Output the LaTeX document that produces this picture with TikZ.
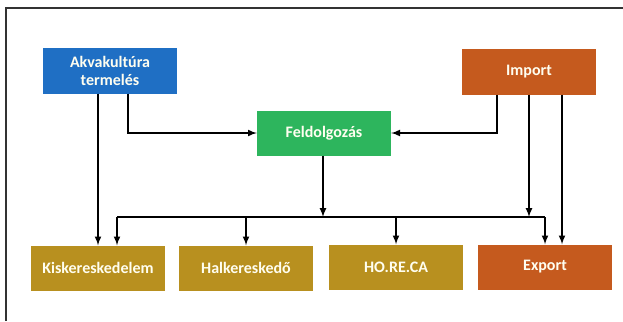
\documentclass[tikz,border=0pt]{standalone}
\usepackage{fontspec}
\setmainfont{Carlito}
\usepackage{xcolor}
\usetikzlibrary{shapes,arrows,positioning,fit,calc}

\definecolor{akvablue}{HTML}{1F6FC4}
\definecolor{feldgreen}{HTML}{2DB55D}
\definecolor{imporange}{HTML}{C55A1E}
\definecolor{retailgold}{HTML}{B8901F}

\begin{document}
\begin{tikzpicture}[x=1pt,y=-1pt,>=latex,
    box/.style={minimum width=134pt,minimum height=45pt,inner sep=0pt,
      align=center,text=white!94!yellow,font=\fontsize{16}{18}\selectfont\bfseries},
    flow/.style={->,line width=2pt,black}]
  \useasboundingbox (0,0) rectangle (623,321);
  \draw[line width=1.3pt,black!80] (6,321) -- (6,8) -- (623,8);

  \node[box,fill=akvablue] (akva) at (110,71) {Akvakultúra\\termelés};
  \node[box,fill=feldgreen] (feld) at (324,133) {Feldolgozás};
  \node[box,fill=imporange] (import) at (529,72) {Import};
  \node[box,fill=retailgold] (kisker) at (98,268) {Kiskereskedelem};
  \node[box,fill=retailgold] (halker) at (246,268) {Halkereskedő};
  \node[box,fill=retailgold] (horeca) at (396,267) {HO.RE.CA};
  \node[box,fill=imporange] (export) at (545,267) {Export};

  % bus line
  \coordinate (busL) at (117,217);
  \coordinate (busR) at (545,217);
  \draw[line width=2pt] (busL) -- (busR);

  % from akvakultura
  \draw[flow] ([xshift=-12pt]akva.south) -- (akva.south -| kisker.north) -- (kisker.north);
  \draw[flow] ([xshift=18pt]akva.south) |- (feld.west);

  % from import
  \draw[flow] ([xshift=-32pt]import.south) |- (feld.east);
  \draw[flow] (import.south) -- (import.south |- busR);
  \draw[flow] ([xshift=33pt]import.south) -- ([xshift=17pt]export.north);

  % from feldolgozas
  \draw[flow] ([xshift=-1pt]feld.south) -- ([xshift=-1pt]feld.south |- busL);

  % down to the boxes
  \draw[flow] (busL) -- (busL |- kisker.north);
  \draw[flow] (halker.north |- busL) -- (halker.north);
  \draw[flow] (horeca.north |- busL) -- (horeca.north);
  \draw[flow] (busR) -- (export.north);
\end{tikzpicture}
\end{document}
